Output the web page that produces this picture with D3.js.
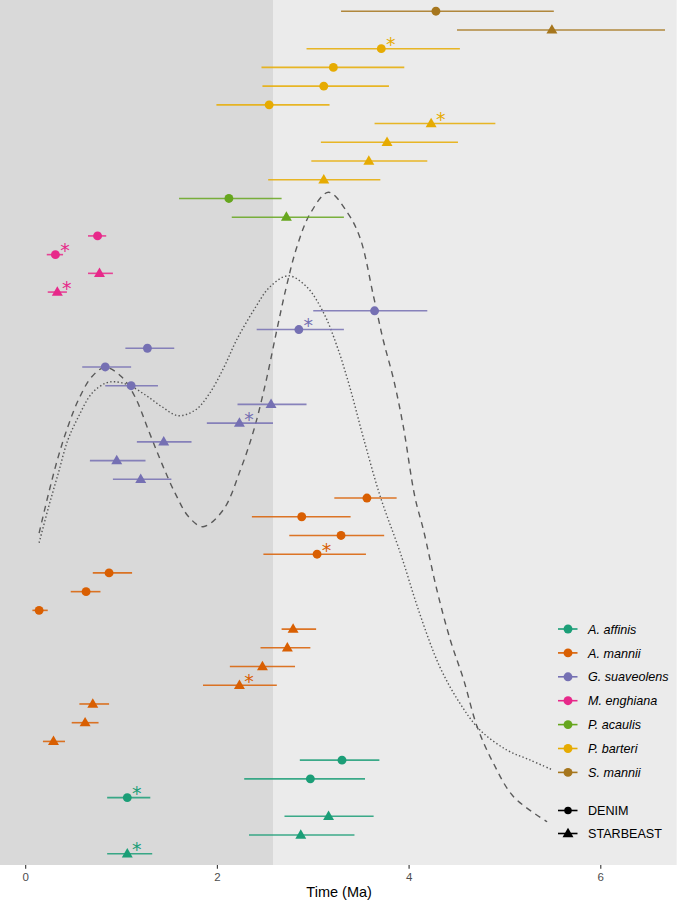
<!DOCTYPE html>
<html>
<head>
<meta charset="utf-8">
<script src="https://cdn.jsdelivr.net/npm/d3@7"></script>
<style>
  body { margin: 0; background: #fff; }
  svg text { font-family: "Liberation Sans", Arial, sans-serif; }
</style>
</head>
<body>
<div id="plot"></div>
<script>
// Species and colours (legend order)
var species = ["A. affinis", "A. mannii", "G. suaveolens", "M. enghiana", "P. acaulis", "P. barteri", "S. mannii"];
var speciesColors = ["#1B9E77", "#D95F02", "#7570B3", "#E7298A", "#66A61E", "#E6AB02", "#A6761D"];
var methods = ["DENIM", "STARBEAST"];

// One entry per row, listed from top to bottom
var rowSpecies = [
  "S. mannii", "S. mannii",
  "P. barteri", "P. barteri", "P. barteri", "P. barteri", "P. barteri", "P. barteri", "P. barteri", "P. barteri",
  "P. acaulis", "P. acaulis",
  "M. enghiana", "M. enghiana", "M. enghiana", "M. enghiana",
  "G. suaveolens", "G. suaveolens", "G. suaveolens", "G. suaveolens", "G. suaveolens",
  "G. suaveolens", "G. suaveolens", "G. suaveolens", "G. suaveolens", "G. suaveolens",
  "A. mannii", "A. mannii", "A. mannii", "A. mannii", "A. mannii", "A. mannii", "A. mannii",
  "A. mannii", "A. mannii", "A. mannii", "A. mannii", "A. mannii", "A. mannii", "A. mannii",
  "A. affinis", "A. affinis", "A. affinis", "A. affinis", "A. affinis", "A. affinis"
];
var rowMethod = [
  "DENIM", "STARBEAST",
  "DENIM", "DENIM", "DENIM", "DENIM", "STARBEAST", "STARBEAST", "STARBEAST", "STARBEAST",
  "DENIM", "STARBEAST",
  "DENIM", "DENIM", "STARBEAST", "STARBEAST",
  "DENIM", "DENIM", "DENIM", "DENIM", "DENIM", "STARBEAST", "STARBEAST", "STARBEAST", "STARBEAST", "STARBEAST",
  "DENIM", "DENIM", "DENIM", "DENIM", "DENIM", "DENIM", "DENIM",
  "STARBEAST", "STARBEAST", "STARBEAST", "STARBEAST", "STARBEAST", "STARBEAST", "STARBEAST",
  "DENIM", "DENIM", "DENIM", "STARBEAST", "STARBEAST", "STARBEAST"
];
var rowTime = [
  4.28, 5.49,
  3.71, 3.21, 3.11, 2.54, 4.23, 3.77, 3.58, 3.11,
  2.12, 2.72,
  0.75, 0.31, 0.77, 0.33,
  3.64, 2.85, 1.27, 0.83, 1.10, 2.56, 2.23, 1.44, 0.95, 1.20,
  3.56, 2.88, 3.29, 3.04, 0.87, 0.63, 0.14,
  2.79, 2.73, 2.47, 2.23, 0.70, 0.62, 0.29,
  3.30, 2.97, 1.06, 3.16, 2.87, 1.06
];
var rowLow = [
  3.29, 4.50,
  2.93, 2.46, 2.47, 1.99, 3.64, 3.08, 2.98, 2.53,
  1.60, 2.15,
  0.65, 0.22, 0.65, 0.23,
  3.00, 2.41, 1.04, 0.59, 0.83, 2.21, 1.89, 1.16, 0.67, 0.91,
  3.22, 2.36, 2.75, 2.48, 0.70, 0.47, 0.07,
  2.67, 2.45, 2.13, 1.85, 0.56, 0.48, 0.18,
  2.86, 2.28, 0.85, 2.70, 2.33, 0.85
];
var rowHigh = [
  5.51, 6.67,
  4.53, 3.95, 3.79, 3.17, 4.90, 4.51, 4.19, 3.70,
  2.67, 3.32,
  0.84, 0.39, 0.91, 0.43,
  4.19, 3.32, 1.55, 1.10, 1.38, 2.93, 2.58, 1.73, 1.25, 1.52,
  3.87, 3.39, 3.74, 3.55, 1.11, 0.78, 0.23,
  3.03, 2.97, 2.81, 2.62, 0.87, 0.76, 0.41,
  3.69, 3.54, 1.30, 3.63, 3.43, 1.32
];
var rowSignificant = [
  false, false,
  true, false, false, false, true, false, false, false,
  false, false,
  false, true, false, true,
  false, true, false, false, false, false, true, false, false, false,
  false, false, false, true, false, false, false,
  false, false, false, true, false, false, false,
  false, false, true, false, false, true
];

// Background curves: time (Ma) and height (in row units from the bottom)
var dashedTime = [0.14, 0.24, 0.34, 0.44, 0.55, 0.69, 0.83, 1.00, 1.14, 1.28, 1.42, 1.56, 1.70, 1.85,
  2.06, 2.24, 2.38, 2.51, 2.62, 2.72, 2.83, 2.97, 3.16, 3.36, 3.49, 3.63, 3.73, 3.84, 3.94,
  4.06, 4.15, 4.29, 4.43, 4.57, 4.71, 4.88, 5.09, 5.44];
var dashedHeight = [17.73, 19.87, 21.81, 23.41, 24.84, 26.08, 26.58, 26.08, 25.01, 23.23, 21.45, 19.85, 18.60, 18.07,
  18.96, 21.10, 23.23, 25.90, 28.57, 30.89, 33.02, 34.81, 35.93, 34.82, 33.47, 30.35, 28.04, 25.90, 23.41,
  19.67, 17.89, 14.69, 12.02, 9.88, 7.39, 5.43, 3.65, 2.31];
var dottedTime = [0.14, 0.24, 0.34, 0.44, 0.55, 0.69, 0.83, 0.93, 1.07, 1.25, 1.42, 1.59, 1.77, 1.92,
  2.07, 2.20, 2.38, 2.55, 2.74, 2.93, 3.11, 3.25, 3.38, 3.52, 3.70, 3.91, 4.11, 4.32, 4.53,
  4.74, 5.02, 5.26, 5.50];
var dottedHeight = [17.21, 19.14, 20.92, 22.70, 23.94, 25.19, 25.73, 25.81, 25.64, 25.10, 24.48, 24.00, 24.30, 25.20,
  26.60, 28.04, 29.64, 30.89, 31.47, 30.89, 29.47, 27.68, 25.55, 22.88, 19.67, 16.65, 13.44, 10.59, 8.64,
  7.21, 6.14, 5.61, 5.07];

var xTicks = [0, 2, 4, 6];
var shadeEnd = 2.58;

// Layout
var svgWidth = 677;
var svgHeight = 901;
var panelWidth = 676.7;
var panelHeight = 865;

var svg = d3.select("#plot")
  .append("svg")
  .attr("width", svgWidth)
  .attr("height", svgHeight);

// Scales
var xScale = d3.scaleLinear()
  .domain([-0.268, 6.792])
  .range([0, panelWidth]);

var yScale = d3.scalePoint()
  .domain(d3.range(rowTime.length))
  .range([0, panelHeight])
  .padding(0.6);

var yCurve = d3.scaleLinear()
  .domain([0, 46.2])
  .range([panelHeight, 0]);

var colorScale = d3.scaleOrdinal()
  .domain(species)
  .range(speciesColors);

var shapeScale = d3.scaleOrdinal()
  .domain(methods)
  .range([d3.symbolCircle, d3.symbolTriangle]);
var shapeSize = { "DENIM": 62, "STARBEAST": 52 };

// Panel background and shaded period
svg.append("rect")
  .attr("x", 0).attr("y", 0)
  .attr("width", panelWidth).attr("height", panelHeight)
  .attr("fill", "#EBEBEB");

svg.append("rect")
  .attr("x", 0).attr("y", 0)
  .attr("width", xScale(shadeEnd))
  .attr("height", panelHeight)
  .attr("fill", "#D9D9D9");

// Curves
var curveLine = d3.line()
  .x(d => xScale(d[0]))
  .y(d => yCurve(d[1]))
  .curve(d3.curveCatmullRom);

svg.append("path")
  .attr("d", curveLine(d3.zip(dashedTime, dashedHeight)))
  .attr("fill", "none")
  .attr("stroke", "#5a5a5a")
  .attr("stroke-width", 1.4)
  .attr("stroke-dasharray", "6,5");

svg.append("path")
  .attr("d", curveLine(d3.zip(dottedTime, dottedHeight)))
  .attr("fill", "none")
  .attr("stroke", "#555555")
  .attr("stroke-width", 1.4)
  .attr("stroke-dasharray", "1.4,2.3");

// Rows
var rows = rowTime.map((t, i) => ({
  i: i, species: rowSpecies[i], method: rowMethod[i],
  time: t, low: rowLow[i], high: rowHigh[i], sig: rowSignificant[i]
}));

var rowGroup = svg.append("g");

rowGroup.selectAll("line.bar")
  .data(rows)
  .enter()
  .append("line")
  .attr("class", "bar")
  .attr("x1", d => xScale(d.low))
  .attr("x2", d => xScale(d.high))
  .attr("y1", d => yScale(d.i))
  .attr("y2", d => yScale(d.i))
  .attr("stroke", d => colorScale(d.species))
  .attr("stroke-opacity", 0.85)
  .attr("stroke-width", 1.6);

rowGroup.selectAll("path.point")
  .data(rows)
  .enter()
  .append("path")
  .attr("class", "point")
  .attr("transform", d => `translate(${xScale(d.time)}, ${yScale(d.i) + (d.method == "STARBEAST" ? 0.5 : 0)})`)
  .attr("d", d => d3.symbol().type(shapeScale(d.method)).size(shapeSize[d.method])())
  .attr("fill", d => colorScale(d.species));

rowGroup.selectAll("text.star")
  .data(rows.filter(d => d.sig))
  .enter()
  .append("text")
  .attr("class", "star")
  .attr("x", d => xScale(d.time) + 9.5)
  .attr("y", d => yScale(d.i) + 2.5)
  .attr("text-anchor", "middle")
  .style("font-family", "DejaVu Sans, sans-serif")
  .style("font-size", "19px")
  .attr("fill", d => colorScale(d.species))
  .text("*");

// Bottom axis
var axisGroup = svg.append("g")
  .attr("transform", `translate(0, ${panelHeight})`);

axisGroup.selectAll("line.tick")
  .data(xTicks)
  .enter()
  .append("line")
  .attr("x1", d => xScale(d)).attr("x2", d => xScale(d))
  .attr("y1", 0).attr("y2", 3.7)
  .attr("stroke", "#333333")
  .attr("stroke-width", 1.1);

axisGroup.selectAll("text.tick")
  .data(xTicks)
  .enter()
  .append("text")
  .attr("x", d => xScale(d))
  .attr("y", 16)
  .attr("text-anchor", "middle")
  .style("font-size", "11.5px")
  .attr("fill", "#4D4D4D")
  .text(d => d);

svg.append("text")
  .attr("x", xScale(3.27))
  .attr("y", 896.5)
  .attr("text-anchor", "middle")
  .style("font-size", "14.5px")
  .attr("fill", "#000")
  .text("Time (Ma)");

// Legend
var legend = svg.append("g")
  .attr("transform", "translate(558, 629)");

var speciesKeys = legend.selectAll("g.sp")
  .data(species)
  .enter()
  .append("g")
  .attr("transform", (d, i) => `translate(0, ${i * 23.9})`);

speciesKeys.append("line")
  .attr("x1", 0).attr("x2", 19.5)
  .attr("stroke", d => colorScale(d))
  .attr("stroke-width", 1.6);

speciesKeys.append("path")
  .attr("transform", "translate(10, 0)")
  .attr("d", d3.symbol().type(d3.symbolCircle).size(62)())
  .attr("fill", d => colorScale(d));

speciesKeys.append("text")
  .attr("x", 30)
  .attr("y", 4.6)
  .style("font-size", "12.6px")
  .style("font-style", "italic")
  .attr("fill", "#000")
  .text(d => d);

var methodKeys = legend.selectAll("g.me")
  .data(methods)
  .enter()
  .append("g")
  .attr("transform", (d, i) => `translate(0, ${181.5 + i * 23})`);

methodKeys.append("line")
  .attr("x1", 0).attr("x2", 19.5)
  .attr("stroke", "#000")
  .attr("stroke-width", 1.6);

methodKeys.append("path")
  .attr("transform", d => `translate(10, ${d == "STARBEAST" ? 0.5 : 0})`)
  .attr("d", d => d3.symbol().type(shapeScale(d)).size(d == "DENIM" ? 45 : 52)())
  .attr("fill", "#000");

methodKeys.append("text")
  .attr("x", 30)
  .attr("y", 4.6)
  .style("font-size", "12.6px")
  .attr("fill", "#000")
  .text(d => d);
</script>
</body>
</html>
